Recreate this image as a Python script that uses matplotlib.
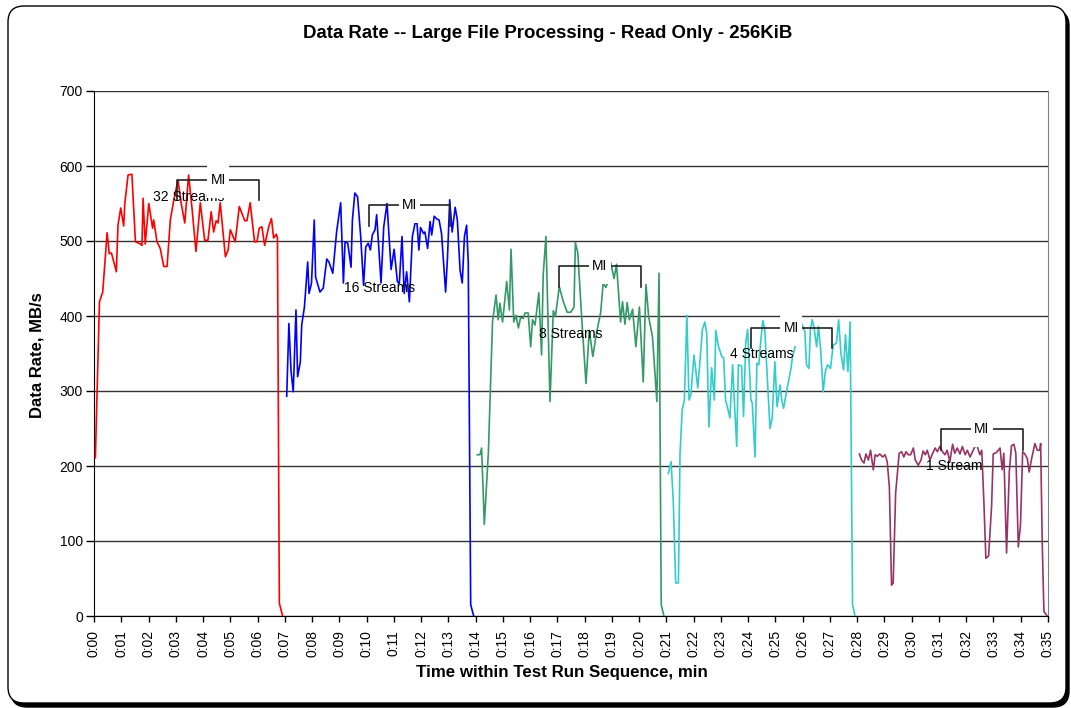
import numpy as np
import matplotlib.pyplot as plt
from matplotlib.patches import FancyBboxPatch, Rectangle
from matplotlib.transforms import Affine2D

plt.rcParams['font.family'] = ['Liberation Sans', 'DejaVu Sans']

# --- data (time in min, rate in MB/s) ---
t_32 = [0.05, 0.20, 0.32, 0.48, 0.56, 0.64, 0.82, 0.88, 0.98, 1.09, 1.13, 1.25, 1.39, 1.52, 1.70,
        1.76, 1.80, 1.88, 2.01, 2.15, 2.19, 2.31, 2.43, 2.56, 2.68, 2.80, 2.92, 3.08, 3.20, 3.33,
        3.47, 3.60, 3.74, 3.90, 4.06, 4.18, 4.30, 4.39, 4.48, 4.55, 4.63, 4.82, 4.92, 5.00, 5.18,
        5.33, 5.53, 5.61, 5.73, 5.89, 5.98, 6.06, 6.16, 6.26, 6.41, 6.51, 6.59, 6.69, 6.73, 6.80, 6.92]
v_32 = [211, 419, 432, 511, 483, 484, 459, 521, 544, 520, 550, 588, 589, 499, 496,
        494, 557, 496, 550, 517, 528, 499, 490, 466, 466, 528, 553, 581, 550, 524,
        588, 542, 486, 551, 501, 501, 539, 512, 527, 524, 551, 479, 488, 515, 499,
        546, 527, 527, 551, 499, 499, 517, 519, 494, 519, 530, 504, 509, 504, 17, 0]

t_16 = [7.07, 7.15, 7.23, 7.31, 7.41, 7.47, 7.57, 7.62, 7.72, 7.84, 7.89, 7.98, 8.08, 8.13, 8.29,
        8.41, 8.54, 8.62, 8.76, 8.90, 9.05, 9.15, 9.21, 9.31, 9.43, 9.48, 9.57, 9.67, 9.78, 9.89,
        9.97, 10.06, 10.14, 10.21, 10.31, 10.37, 10.53, 10.63, 10.75, 10.90, 11.01, 11.13, 11.20,
        11.30, 11.38, 11.47, 11.57, 11.68, 11.78, 11.85, 11.92, 11.98, 12.09, 12.14, 12.24, 12.33,
        12.39, 12.48, 12.59, 12.66, 12.75, 12.90, 12.97, 13.05, 13.14, 13.25, 13.33, 13.43, 13.51,
        13.59, 13.67, 13.73, 13.82, 13.93]
v_16 = [293, 390, 326, 299, 408, 319, 339, 388, 412, 472, 430, 444, 528, 452, 432,
        437, 476, 472, 457, 512, 551, 444, 499, 497, 465, 528, 564, 559, 508, 441,
        492, 497, 488, 508, 515, 535, 444, 519, 550, 462, 489, 446, 443,
        506, 430, 459, 419, 506, 524, 524, 488, 518, 510, 512, 490, 526,
        508, 533, 529, 528, 510, 432, 479, 555, 512, 545, 528, 461, 444,
        506, 521, 472, 15, 0]

t_8 = [14.06, 14.16, 14.22, 14.32, 14.47, 14.62, 14.75, 14.83, 14.89, 14.99, 15.14, 15.24, 15.30,
       15.40, 15.48, 15.57, 15.65, 15.75, 15.81, 15.93, 16.02, 16.09, 16.18, 16.32, 16.42, 16.48,
       16.58, 16.73, 16.85, 16.93, 17.07, 17.22, 17.36, 17.49, 17.61, 17.66, 17.75, 17.89, 18.05,
       18.17, 18.30, 18.44, 18.59, 18.68, 18.78, 18.84, 18.95, 19.08, 19.17, 19.32, 19.39, 19.48,
       19.56, 19.64, 19.76, 19.88, 20.01, 20.15, 20.25, 20.35, 20.49, 20.65, 20.73, 20.81, 20.91]
v_8 = [215, 215, 224, 122, 219, 392, 428, 395, 417, 392, 446, 408, 489,
       392, 401, 384, 398, 397, 404, 404, 359, 395, 388, 431, 348, 455,
       506, 286, 407, 400, 439, 419, 405, 405, 412, 498, 484, 399, 310,
       381, 346, 378, 405, 444, 438, 444, 472, 450, 469, 392, 419, 389,
       418, 395, 409, 359, 412, 312, 442, 399, 372, 286, 457, 15, 0]

t_4 = [21.07, 21.17, 21.25, 21.34, 21.44, 21.50, 21.58, 21.66, 21.75, 21.83, 21.90, 22.01, 22.07,
       22.15, 22.23, 22.32, 22.41, 22.48, 22.56, 22.66, 22.76, 22.81, 22.90, 23.03, 23.10, 23.17,
       23.25, 23.33, 23.43, 23.49, 23.58, 23.64, 23.71, 23.76, 23.83, 23.91, 23.98, 24.10, 24.15,
       24.25, 24.32, 24.39, 24.47, 24.54, 24.61, 24.71, 24.80, 24.88, 24.98, 25.06, 25.17, 25.23,
       25.30, 25.39, 25.47, 25.57, 25.62, 25.72, 25.81, 25.90, 25.96, 26.08, 26.14, 26.23, 26.28,
       26.35, 26.42, 26.51, 26.58, 26.66, 26.75, 26.83, 26.91, 27.02, 27.12, 27.24, 27.32, 27.40,
       27.50, 27.57, 27.66, 27.74, 27.83, 27.92]
v_4 = [190, 206, 155, 44, 44, 217, 275, 288, 401, 288, 295, 348, 330,
       304, 339, 382, 392, 377, 252, 331, 288, 381, 361, 346, 344, 288,
       277, 264, 335, 288, 226, 335, 334, 333, 266, 364, 382, 288, 284,
       212, 337, 335, 370, 394, 381, 312, 250, 264, 339, 279, 308, 288,
       277, 296, 311, 330, 344, 359, 370, 382, 390, 379, 335, 330, 381,
       395, 384, 359, 386, 355, 299, 326, 335, 330, 361, 364, 395, 351,
       328, 375, 326, 392, 15, 0]

t_1 = [28.08, 28.16, 28.25, 28.32, 28.41, 28.49, 28.59, 28.66, 28.74, 28.83, 28.93, 29.02, 29.10,
       29.18, 29.26, 29.32, 29.41, 29.54, 29.63, 29.71, 29.79, 29.87, 29.96, 30.06, 30.13, 30.24,
       30.34, 30.42, 30.50, 30.57, 30.67, 30.77, 30.86, 30.94, 31.03, 31.13, 31.22, 31.30, 31.40,
       31.50, 31.58, 31.67, 31.77, 31.86, 31.96, 32.04, 32.14, 32.23, 32.32, 32.40, 32.50, 32.57,
       32.65, 32.72, 32.82, 32.93, 32.99, 33.11, 33.24, 33.32, 33.38, 33.48, 33.58, 33.66, 33.75,
       33.82, 33.91, 33.99, 34.07, 34.15, 34.24, 34.31, 34.40, 34.52, 34.61, 34.70, 34.73, 34.79,
       34.85, 34.97]
v_1 = [216, 208, 204, 216, 208, 221, 195, 215, 213, 216, 212, 215, 206,
       172, 41, 44, 164, 217, 219, 212, 219, 215, 215, 224, 208, 201,
       208, 220, 215, 221, 208, 217, 224, 219, 226, 219, 215, 221, 206,
       229, 217, 224, 216, 226, 215, 221, 212, 219, 226, 227, 215, 221,
       150, 77, 80, 146, 216, 218, 224, 195, 217, 84, 192, 227, 229,
       217, 92, 121, 219, 216, 210, 192, 210, 230, 221, 221, 230, 95,
       6, 0]

series_t = [t_32, t_16, t_8, t_4, t_1]
series_v = [v_32, v_16, v_8, v_4, v_1]
series_names = ['32 Streams', '16 Streams', '8 Streams', '4 Streams', '1 Stream']
series_colors = ['#FF0000', '#0000FF', '#339966', '#33CCCC', '#993366']

# label / MI bracket positions
label_t = [3.48, 10.49, 17.49, 24.50, 31.57]
label_v = [559, 437, 376, 350, 200]
mi_start = [3.06, 10.09, 17.07, 24.09, 31.09]
mi_end = [6.05, 13.06, 20.05, 27.06, 34.07]
mi_top = [581, 548, 467, 384, 249]
mi_bottom = [555, 520, 439, 357, 221]

W, H = 1071, 708
fig = plt.figure(figsize=(W / 100, H / 100), dpi=100)
fig.patch.set_facecolor('white')

# rounded chart border with a drop shadow (pixel coords, origin bottom-left)
px = Affine2D().scale(1.0 / W, 1.0 / H) + fig.transFigure
shadow = FancyBboxPatch((11, 1), 1058, 697, boxstyle='round,pad=0,rounding_size=16',
                        transform=px, facecolor='black', edgecolor='black', lw=1, zorder=-2)
frame = FancyBboxPatch((8, 5), 1058, 697, boxstyle='round,pad=0,rounding_size=16',
                       transform=px, facecolor='white', edgecolor='black', lw=1.0, zorder=-1)
fig.patches.extend([shadow, frame])

ax = fig.add_axes([94 / W, 1 - 616 / H, (1048 - 94) / W, (616 - 91) / H])
ax.set_facecolor('none')

for tt, vv, c in zip(series_t, series_v, series_colors):
    ax.plot(tt, vv, color=c, lw=1.2, zorder=3)

for lt, lv, name in zip(label_t, label_v, series_names):
    ax.text(lt, lv, name, ha='center', va='center', fontsize=10, zorder=5)

for s, e, top, bot in zip(mi_start, mi_end, mi_top, mi_bottom):
    ax.plot([s, s, e, e], [bot, top, top, bot], color='#222222', lw=1.2, zorder=4)
    mid = (s + e) / 2
    # white label box, taller below the text as in the reference
    ax.add_patch(Rectangle((mid - 0.4, top - 24), 0.8, 44, facecolor='white',
                           edgecolor='none', zorder=6))
    ax.text(mid, top, 'MI', ha='center', va='center', fontsize=10, zorder=7)

ax.set_xlim(0, 35)
ax.set_ylim(0, 700)
ax.set_xticks(np.arange(0, 36))
ax.set_xticklabels([f'0:{i:02d}' for i in range(36)], rotation=90, fontsize=10)
ax.set_yticks(np.arange(0, 701, 100))
ax.set_yticklabels([str(v) for v in range(0, 701, 100)], fontsize=10)
ax.tick_params(axis='x', direction='out', length=4, width=1, pad=6)
ax.tick_params(axis='y', direction='out', length=6, width=1, pad=2)

ax.grid(axis='y', color='#333333', lw=1.0, zorder=1)
ax.set_axisbelow(True)
ax.spines['top'].set_visible(False)
ax.spines['right'].set_color('#808080')
ax.spines['left'].set_color('black')
ax.spines['bottom'].set_color('black')

fig.text(548 / W, 1 - 33 / H, 'Data Rate -- Large File Processing - Read Only - 256KiB',
         ha='center', va='center', fontsize=13.4, fontweight='bold')
fig.text(562 / W, 1 - 673 / H, 'Time within Test Run Sequence, min',
         ha='center', va='center', fontsize=12.2, fontweight='bold')
fig.text(37 / W, 1 - 355 / H, 'Data Rate, MB/s', ha='center', va='center',
         rotation=90, fontsize=12, fontweight='bold')

fig.savefig('out.png', dpi=100)
